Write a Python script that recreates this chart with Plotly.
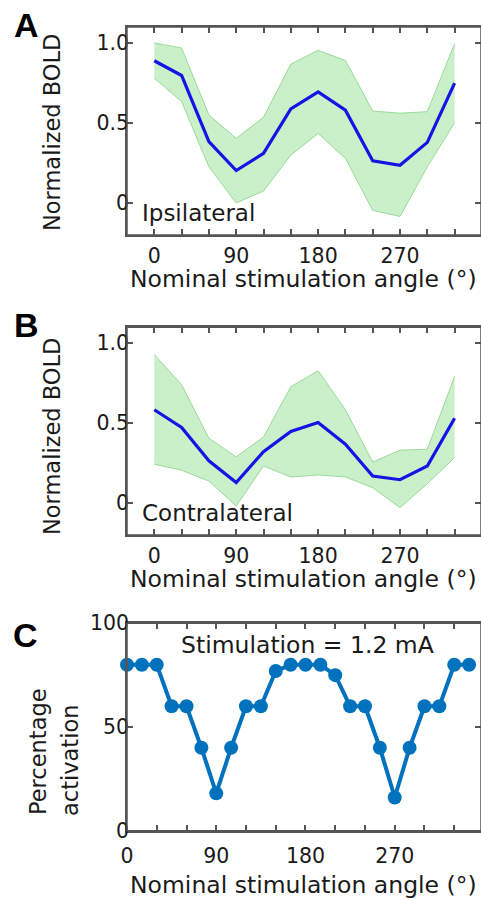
import plotly.graph_objects as go

# ---------------- data ----------------
angles_ab = [0, 30, 60, 90, 120, 150, 180, 210, 240, 270, 300, 330]

ipsi_mean = [0.889, 0.797, 0.383, 0.203, 0.31, 0.588, 0.695, 0.58, 0.264, 0.236, 0.379, 0.749]
ipsi_upper = [1.0, 0.969, 0.55, 0.404, 0.536, 0.868, 0.954, 0.891, 0.575, 0.561, 0.571, 0.996]
ipsi_lower = [0.78, 0.634, 0.226, 0.0, 0.075, 0.299, 0.435, 0.278, -0.046, -0.084, 0.226, 0.502]

contra_mean = [0.584, 0.473, 0.264, 0.128, 0.322, 0.448, 0.504, 0.368, 0.169, 0.146, 0.232, 0.531]
contra_upper = [0.929, 0.741, 0.406, 0.289, 0.414, 0.728, 0.828, 0.584, 0.257, 0.331, 0.337, 0.793]
contra_lower = [0.243, 0.205, 0.138, -0.019, 0.232, 0.163, 0.176, 0.163, 0.096, -0.029, 0.121, 0.285]

angles_c = [0, 15, 30, 45, 60, 75, 90, 105, 120, 135, 150, 165, 180, 195, 210, 225,
            240, 255, 270, 285, 300, 315, 330, 345]
activation = [80, 80, 80, 60, 60, 40, 18, 40, 60, 60, 77, 80, 80, 80, 75, 60,
              60, 40, 16, 40, 60, 60, 80, 80]

x_tickvals = [0, 30, 60, 90, 120, 150, 180, 210, 240, 270, 300, 330]
x_ticktext = ["0", "", "", "90", "", "", "180", "", "", "270", "", ""]
bold_tickvals = [0, 0.5, 1.0]
bold_ticktext = ["0", "0.5", "1.0"]
c_tickvals = [0, 50, 100]
c_ticktext = ["0", "50", "100"]

# ---------------- styling ----------------
W, H = 481, 900
FONT = "DejaVu Sans"
AX = "#555555"
TXT = "#1a1a1a"
FILL = "rgba(150,225,150,0.5)"
EDGE = "#9ada9a"
BLUE = "#1414e6"
CBLUE = "#0072BD"


def py(px):
    return 1 - px / H


def px_x(px):
    return px / W


fig = go.Figure()

panels = [
    ("x", "y", ipsi_lower, ipsi_upper, ipsi_mean),
    ("x2", "y2", contra_lower, contra_upper, contra_mean),
]
for xa, ya, lo, up, mn in panels:
    fig.add_trace(go.Scatter(x=angles_ab, y=lo, mode="lines", xaxis=xa, yaxis=ya,
                             line=dict(color=EDGE, width=1), showlegend=False, hoverinfo="skip"))
    fig.add_trace(go.Scatter(x=angles_ab, y=up, mode="lines", xaxis=xa, yaxis=ya,
                             line=dict(color=EDGE, width=1), fill="tonexty", fillcolor=FILL,
                             showlegend=False, hoverinfo="skip"))
    fig.add_trace(go.Scatter(x=angles_ab, y=mn, mode="lines", xaxis=xa, yaxis=ya,
                             line=dict(color=BLUE, width=3.2), showlegend=False))

fig.add_trace(go.Scatter(x=angles_c, y=activation, mode="lines+markers", xaxis="x3", yaxis="y3",
                         line=dict(color=CBLUE, width=4), marker=dict(color=CBLUE, size=14),
                         cliponaxis=False, showlegend=False))

common_axis = dict(showline=True, linecolor=AX, linewidth=1.5, mirror="allticks", ticks="inside",
                   ticklen=6, tickwidth=1.5, tickcolor=AX, showgrid=False, zeroline=False,
                   automargin=False,
                   tickfont=dict(family=FONT, size=20.5, color=TXT))
ytick_std = dict(ticklabelstandoff=-8)

xdom = [px_x(127), 1.0]
doms = {
    "1": [py(235), py(27)],
    "2": [py(535), py(327.3)],
    "3": [py(830.7), py(623.3)],
}

layout = dict(
    width=W, height=H, margin=dict(l=0, r=0, t=0, b=0, autoexpand=False),
    paper_bgcolor="white", plot_bgcolor="white",
    font=dict(family=FONT, color=TXT),
    xaxis=dict(domain=xdom, range=[-30, 359], anchor="y", tickmode="array",
               tickvals=x_tickvals, ticktext=x_ticktext, ticklabelstandoff=2, **common_axis),
    yaxis=dict(domain=doms["1"], range=[-0.2, 1.1], anchor="x", tickmode="array",
               tickvals=bold_tickvals, ticktext=bold_ticktext, **common_axis, **ytick_std),
    xaxis2=dict(domain=xdom, range=[-30, 359], anchor="y2", tickmode="array",
                tickvals=x_tickvals, ticktext=x_ticktext, ticklabelstandoff=2, **common_axis),
    yaxis2=dict(domain=doms["2"], range=[-0.2, 1.1], anchor="x2", tickmode="array",
                tickvals=bold_tickvals, ticktext=bold_ticktext, **common_axis, **ytick_std),
    xaxis3=dict(domain=xdom, range=[0, 357], anchor="y3", tickmode="array",
                tickvals=x_tickvals, ticktext=x_ticktext, ticklabelstandoff=6, **common_axis),
    yaxis3=dict(domain=doms["3"], range=[0, 100], anchor="x3", tickmode="array",
                tickvals=c_tickvals, ticktext=c_ticktext, **common_axis, **ytick_std),
)
fig.update_layout(**layout)

# explicit box outline for each panel
shapes = []
for xr, yr in [("x domain", "y domain"), ("x2 domain", "y2 domain"), ("x3 domain", "y3 domain")]:
    shapes.append(dict(type="rect", xref=xr, yref=yr, x0=0, x1=1, y0=0, y1=1,
                       line=dict(color=AX, width=1.5), fillcolor="rgba(0,0,0,0)", layer="above"))
fig.update_layout(shapes=shapes)

ann = []
TITLE_SIZE = 23
# panel letters
for letter, cx, cy in [("A", 26, 25), ("B", 26, 325), ("C", 25, 635)]:
    ann.append(dict(text="<b>%s</b>" % letter, x=px_x(cx), y=py(cy), xref="paper", yref="paper",
                    xanchor="center", yanchor="middle", showarrow=False,
                    font=dict(family="Liberation Sans", size=34, color="black")))
# y titles
for t, cx, cy in [("Normalized BOLD", 52, 133), ("Normalized BOLD", 52, 437),
                  ("Percentage", 38, 752), ("activation", 70, 761)]:
    ann.append(dict(text=t, x=px_x(cx), y=py(cy), xref="paper", yref="paper", textangle=-90,
                    xanchor="center", yanchor="middle", showarrow=False,
                    font=dict(family=FONT, size=22.5, color=TXT)))
# x titles
for cy in [279, 579, 885]:
    ann.append(dict(text="Nominal stimulation angle (°)", x=px_x(303), y=py(cy), xref="paper",
                    yref="paper", xanchor="center", yanchor="middle", showarrow=False,
                    font=dict(family=FONT, size=23.5, color=TXT)))
# in-plot labels
ann.append(dict(text="Ipsilateral", x=-16, y=-0.06, xref="x", yref="y", xanchor="left",
                yanchor="middle", showarrow=False, font=dict(family=FONT, size=TITLE_SIZE, color=TXT)))
ann.append(dict(text="Contralateral", x=-16, y=-0.065, xref="x2", yref="y2", xanchor="left",
                yanchor="middle", showarrow=False, font=dict(family=FONT, size=TITLE_SIZE, color=TXT)))
ann.append(dict(text="Stimulation = 1.2 mA", x=px_x(307), y=py(645), xref="paper", yref="paper",
                xanchor="center", yanchor="middle", showarrow=False,
                font=dict(family=FONT, size=23.5, color=TXT)))
fig.update_layout(annotations=ann)

fig.write_html("out.html")
